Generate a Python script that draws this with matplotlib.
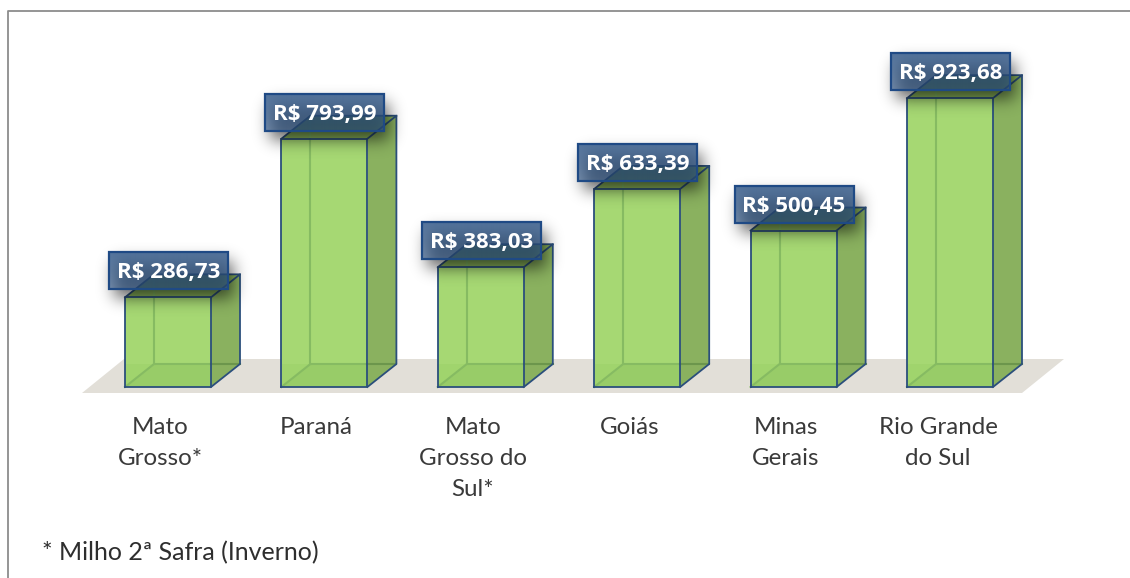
import numpy as np
import matplotlib
matplotlib.use("Agg")
import matplotlib.pyplot as plt
from matplotlib.patches import Polygon, Rectangle

plt.rcParams['font.family'] = ['Lato', 'DejaVu Sans']

estados = ["Mato\nGrosso*", "Paraná", "Mato\nGrosso do\nSul*", "Goiás", "Minas\nGerais", "Rio Grande\ndo Sul"]
valores = [286.73, 793.99, 383.03, 633.39, 500.45, 923.68]
rotulos = ["R$ 286,73", "R$ 793,99", "R$ 383,03", "R$ 633,39", "R$ 500,45", "R$ 923,68"]

W, H = 1130, 578
PX_X = 156.4   # pixels per category
PX_Y = 0.3127  # pixels per R$
X0, Y0 = 168, 387  # pixel of first bar centre, baseline

fig = plt.figure(figsize=(W / 100, H / 100), dpi=100)
ax = fig.add_axes([0, 0, 1, 1])
ax.axis("off")

sx = 1 / PX_X
sy = 1 / PX_Y
larg = 43 * sx
dx = 29 * sx
dy = 23 * sy
borda = "#2b4f7c"
verde = "#a6d873"
lado = "#8ab15f"


def px(x):
    return (x - X0) * sx


def py(y):
    return (Y0 - y) * sy


def sombra(bw, bh, margem=28, sigma=8):
    # blurred rectangle, size in pixels
    m = np.zeros((int(bh) + 2 * margem, int(bw) + 2 * margem))
    m[margem:-margem, margem:-margem] = 1
    t = np.arange(-24, 25)
    g = np.exp(-t ** 2 / (2 * sigma ** 2))
    g = g / g.sum()
    m = np.apply_along_axis(lambda r: np.convolve(r, g, mode="same"), 0, m)
    m = np.apply_along_axis(lambda r: np.convolve(r, g, mode="same"), 1, m)
    rgba = np.zeros(m.shape + (4,))
    rgba[..., 3] = m * 0.6
    return rgba


# moldura
ax.plot([px(8), px(8), px(1130)], [py(578), py(11), py(11)], color="#8c8c8c", lw=1.3, zorder=1)

# chao
ax.add_patch(Polygon([[px(82), py(393)], [px(1022), py(393)], [px(1064), py(359)], [px(124), py(359)]],
                     facecolor="#e2dfd8", edgecolor="none", zorder=1))

for i, v in enumerate(valores):
    e, d = i - larg, i + larg
    # fundo da caixa
    ax.add_patch(Polygon([[e, 0], [d, 0], [d + dx, dy], [e + dx, dy]], facecolor="#98cc68", edgecolor="none", zorder=2))
    # lateral
    ax.add_patch(Polygon([[d, 0], [d + dx, dy], [d + dx, v + dy], [d, v]], facecolor=lado, edgecolor="none", zorder=2))
    # frente
    ax.add_patch(Polygon([[e, dy], [d, dy], [d, v], [e, v]], facecolor=verde, edgecolor="none", zorder=2.5))
    ax.add_patch(Polygon([[e, 0], [e + dx, dy], [e, dy]], facecolor="#a0d46d", edgecolor="none", zorder=2.5))
    # topo
    ax.add_patch(Polygon([[e, v], [d, v], [d + dx, v + dy], [e + dx, v + dy]], facecolor="#8cb65c", edgecolor="none", zorder=2.5))
    # arestas internas
    ax.plot([e + dx, e + dx], [dy, v + dy], color="#86bb62", lw=1.5, zorder=3)
    ax.plot([e, e + dx, d], [0, dy, dy], color="#86bb62", lw=1.5, zorder=3)
    ax.plot([d, d + dx], [dy, dy], color="#6c964c", lw=1.5, zorder=3)
    # arestas visiveis
    ax.plot([e, d, d, e, e], [0, 0, v, v, 0], color=borda, lw=1.3, zorder=4)
    ax.plot([d, d + dx, d + dx, d], [0, dy, v + dy, v], color=borda, lw=1.3, zorder=4)
    ax.plot([e, e + dx, d + dx], [v, v + dy, v + dy], color=borda, lw=1.3, zorder=4)

    bx = e - 16 * sx
    by = v + 8 * sy
    bw = 119 * sx
    bh = 37 * sy

    # sombra do rotulo
    ax.imshow(sombra(119, 37), origin="upper", aspect="auto", zorder=5, interpolation="bilinear",
              extent=[bx + (5 - 28) * sx, bx + (5 + 119 + 28) * sx, by + (-9 - 28) * sy, by + (-9 + 37 + 28) * sy])

    # rotulo, mais claro embaixo
    grad = np.zeros((37, 1, 4))
    grad[..., :3] = np.array([47, 86, 135]) / 255
    grad[:, 0, 3] = np.linspace(0.82, 0.62, 37)
    ax.imshow(grad, origin="upper", aspect="auto", zorder=6, extent=[bx, bx + bw, by, by + bh])
    ax.add_patch(Rectangle((bx, by), bw, bh, facecolor="none", edgecolor="#1f4a85", lw=1.6, zorder=6.5))
    ax.text(bx + bw / 2, by + bh / 2 - 2 * sy, rotulos[i], color="white", ha="center", va="center", fontsize=16,
            fontweight="bold", family=['Open Sans', 'DejaVu Sans'], zorder=7)

    ajuste = -12 if i == 5 else -8
    ax.text(i + ajuste * sx, py(417), estados[i], color="#3a3a3a", ha="center", va="top", fontsize=17.4,
            linespacing=1.58, zorder=7)

ax.text(px(42), py(553), "* Milho 2ª Safra (Inverno)", color="#2e2e2e", ha="left", va="center", fontsize=18)

ax.set_xlim(-X0 / PX_X, (W - X0) / PX_X)
ax.set_ylim(-(H - Y0) / PX_Y, Y0 / PX_Y)

fig.savefig("out.png", dpi=100)
